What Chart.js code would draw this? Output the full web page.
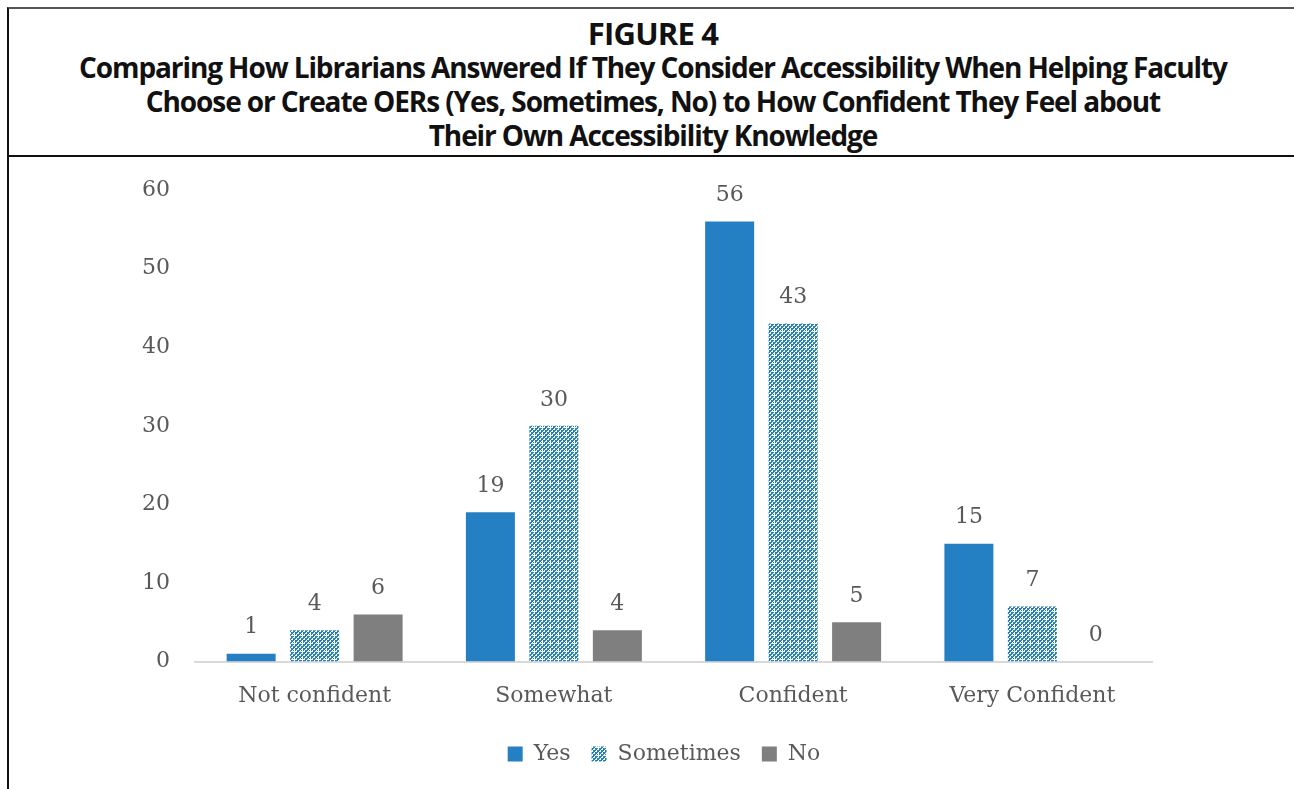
<!DOCTYPE html>
<html lang="en">
<head>
<meta charset="UTF-8">
<title>Figure 4</title>
<script src="https://cdn.jsdelivr.net/npm/chart.js@4.4.1/dist/chart.umd.min.js"></script>
<style>
  body { margin: 0; background: #fff; }
  #frame {
    position: absolute; left: 7px; top: 7px; width: 1300px; height: 800px;
    border-left: 2px solid #111; border-top: 2px solid #555;
  }
  #head {
    height: 146px; border-bottom: 2px solid #111;
    font-family: "Open Sans", sans-serif; font-weight: 700; color: #111;
    text-align: center; width: 1288px;
  }
  #head .fig { font-size: 31px; line-height: 30px; padding-top: 9px; letter-spacing: -0.8px; }
  #head .sub { font-size: 28px; line-height: 34px; letter-spacing: -1.1px; padding-top: 2px; }
  #wrap { position: absolute; left: 0; top: 149px; width: 1285px; height: 631px; }
</style>
</head>
<body>
<div id="frame">
  <div id="head">
    <div class="fig">FIGURE 4</div>
    <div class="sub">Comparing How Librarians Answered If They Consider Accessibility When Helping Faculty<br>Choose or Create OERs (Yes, Sometimes, No) to How Confident They Feel about<br>Their Own Accessibility Knowledge</div>
  </div>
  <div id="wrap"><canvas id="chart" width="1285" height="631"></canvas></div>
</div>
<script>
// chart data
const categories = ['Not confident', 'Somewhat', 'Confident', 'Very Confident'];
const seriesNames = ['Yes', 'Sometimes', 'No'];
const yesValues = [1, 19, 56, 15];
const sometimesValues = [4, 30, 43, 7];
const noValues = [6, 4, 5, 0];
const yTicks = [0, 10, 20, 30, 40, 50, 60];

const BLUE = '#2580c3';
const GRAY = '#7f7f7f';
const TEXT = '#595959';
const FONT = '"DejaVu Serif", serif';
const FSIZE = 22;

// checker pattern for the "Sometimes" bars
function makePattern() {
    const c = document.createElement('canvas');
    c.width = 8; c.height = 8;
    const g = c.getContext('2d');
    g.fillStyle = '#ffffff';
    g.fillRect(0, 0, 8, 8);
    g.fillStyle = BLUE;
    for (let y = 0; y < 8; y += 2) {
        for (let x = 0; x < 8; x += 2) {
            if ((x + y) % 4 === 0) g.fillRect(x, y, 2, 2);
            else g.fillRect(x, y, 1, 1);
        }
    }
    g.fillStyle = '#ffffff';
    g.fillRect(5, 4, 1, 3);
    g.fillRect(4, 5, 3, 1);
    return g.createPattern(c, 'repeat');
}
const pattern = makePattern();

// value labels above bars
const barLabels = {
    id: 'barLabels',
    afterDatasetsDraw(chart) {
        const ctx = chart.ctx;
        ctx.save();
        ctx.font = FSIZE + 'px ' + FONT;
        ctx.fillStyle = TEXT;
        ctx.textAlign = 'center';
        ctx.textBaseline = 'middle';
        chart.data.datasets.forEach((ds, i) => {
            chart.getDatasetMeta(i).data.forEach((bar, j) => {
                ctx.fillText(String(ds.data[j]), bar.x, bar.y - 26);
            });
        });
        ctx.restore();
    }
};

// centre the legend on the page, not on the padded area
const moveLegend = {
    id: 'moveLegend',
    afterLayout(chart) {
        const lg = chart.legend;
        lg.left = 0;
        lg.right = 1310;
    }
};

const ctx = document.getElementById('chart').getContext('2d');
const chart = new Chart(ctx, {
    type: 'bar',
    data: {
        labels: categories,
        datasets: [
            { label: seriesNames[0], data: yesValues, backgroundColor: BLUE },
            { label: seriesNames[1], data: sometimesValues, backgroundColor: pattern },
            { label: seriesNames[2], data: noValues, backgroundColor: GRAY }
        ]
    },
    options: {
        responsive: false,
        animation: false,
        layout: { padding: { top: 32, right: 142, bottom: 14, left: 0 } },
        datasets: { bar: { categoryPercentage: 0.796, barPercentage: 0.772 } },
        scales: {
            x: {
                grid: { display: false },
                border: { display: true, color: '#d9d9d9', width: 2 },
                ticks: { color: TEXT, font: { family: FONT, size: FSIZE }, padding: 13 }
            },
            y: {
                min: 0, max: 60,
                afterFit(scale) { scale.width = 186; },
                afterBuildTicks(scale) { scale.ticks = yTicks.map(v => ({ value: v })); },
                grid: { display: false },
                border: { display: false },
                ticks: { color: TEXT, font: { family: FONT, size: FSIZE }, padding: 17 }
            }
        },
        plugins: {
            tooltip: { enabled: false },
            legend: {
                position: 'bottom',
                labels: {
                    color: TEXT,
                    font: { family: FONT, size: FSIZE },
                    boxWidth: 15, boxHeight: 15,
                    padding: 21
                }
            }
        }
    },
    plugins: [barLabels, moveLegend]
});
</script>
</body>
</html>
